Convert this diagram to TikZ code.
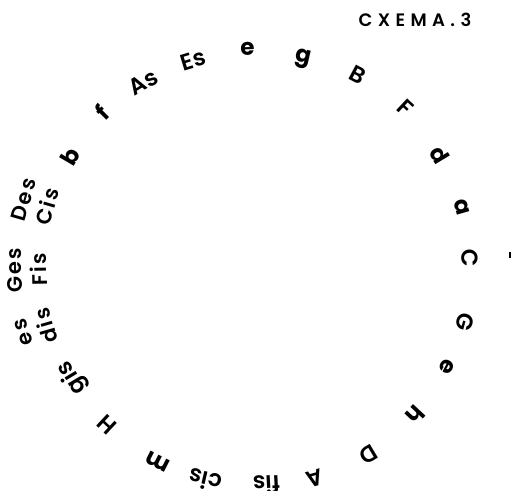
\documentclass[tikz,border=0pt]{standalone}
\usepackage{fontspec}
\setmainfont{Poppins}[UprightFont={* SemiBold}, BoldFont={* Bold}]
\usepackage{tikz}

\tikzset{
  note/.style={inner sep=0pt, font=\fontsize{23}{25}\selectfont},
  minor/.style={inner sep=0pt, font=\fontsize{23}{25}\selectfont\bfseries},
  twin/.style={inner sep=0pt, align=center,
    font=\fontsize{21}{25}\selectfont\addfontfeatures{LetterSpace=10}},
}

\begin{document}
\begin{tikzpicture}[x=1pt,y=1pt]
  \useasboundingbox (-255,-224) rectangle (258,266);
  % title
  \node (title) at (160,246) {\fontsize{18}{20}\selectfont\addfontfeatures{LetterSpace=30}CXEMA.3};
  % circle of keys
  \node[minor, rotate=2]    (e1)  at (92:217)   {e};
  \node[minor, rotate=-13]  (g1)  at (77:212)   {g};
  \node[note,  rotate=-28]  (B1)  at (61.7:217) {B};
  \node[note,  rotate=-43]  (F1)  at (46.5:218) {F};
  \node[minor, rotate=-59]  (d1)  at (31:216)   {d};
  \node[minor, rotate=-74]  (a1)  at (16:215)   {a};
  \node[note,  rotate=-88]  (C1)  at (2:215)    {C};
  \node[note,  rotate=-105] (G1)  at (-15:217)  {G};
  \node[minor, rotate=-118] (e2)  at (-27.7:217) {e};
  \node[minor, rotate=-133] (h1)  at (-43:219)  {h};
  \node[note,  rotate=-149] (D1)  at (-59:220)  {D};
  \node[note,  rotate=-164] (A1)  at (-74.3:221) {A};
  \node[note,  rotate=-177] (fis) at (-87:219)  {fis};
  \node[note,  rotate=167]  (cis) at (-103:220) {cis};
  \node[minor, rotate=153]  (m1)  at (-116.4:219) {m};
  \node[note,  rotate=137]  (H1)  at (-133:217) {H};
  \node[note,  rotate=121]  (gis) at (-148.6:214) {gis};
  \node[twin,  rotate=106]  (dis) at (-164:228) {es\\dis};
  \node[twin,  rotate=91]   (fisges) at (-179:228) {Ges\\Fis};
  \node[twin,  rotate=74]   (cisdes) at (164:228) {Des\\Cis};
  \node[minor, rotate=59.5] (b1)  at (149.5:215) {b};
  \node[minor, rotate=45]   (f1)  at (135:217)  {f};
  \node[note,  rotate=31]   (As)  at (121.3:215) {As};
  \node[note,  rotate=17]   (Es)  at (106.8:215) {Es};
  % stray mark on the right
  \draw[line width=1.2pt] (255,8) -- (255,14);
\end{tikzpicture}
\end{document}
